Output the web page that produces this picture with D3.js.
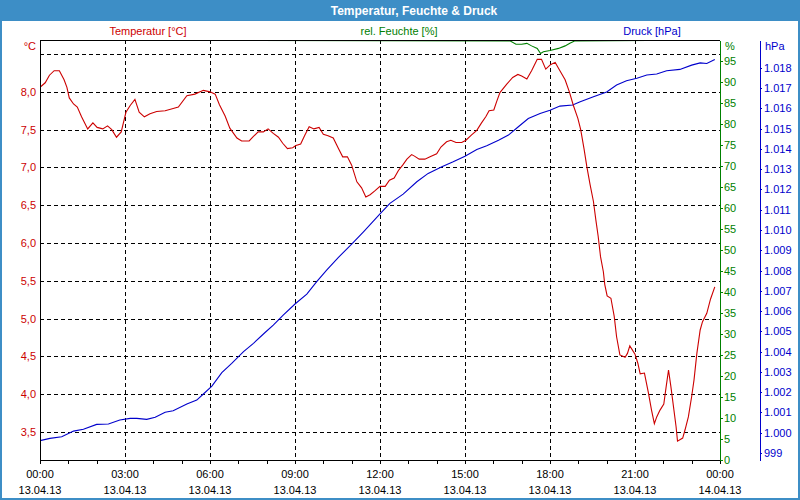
<!DOCTYPE html>
<html><head><meta charset="utf-8">
<script src="https://cdn.jsdelivr.net/npm/d3@7"></script>
<style>
body{margin:0;background:#fff}
svg{display:block}
text{font-family:"Liberation Sans",Arial,sans-serif;font-size:11px}
</style>
</head><body>
<svg id="chart" width="800" height="500"></svg>
<script>
// ---- data (minutes since 00:00 on 13.04.13) ----
const tempMin = [0,11,20,30,41,51,57,62,71,79,88,101,112,121,133,143,152,162,172,182,191,201,210,221,233,247,265,282,293,311,328,346,360,371,380,392,402,417,427,443,452,462,473,483,494,505,514,524,535,542,552,561,570,580,591,600,610,621,632,641,651,660,671,681,690,699,709,720,731,740,750,759,768,777,787,793,803,815,826,840,849,861,870,881,893,902,914,925,935,944,951,961,967,974,988,1001,1012,1020,1031,1041,1053,1062,1071,1081,1091,1101,1112,1121,1129,1139,1145,1152,1158,1165,1172,1177,1182,1187,1193,1196,1201,1209,1216,1221,1228,1239,1244,1249,1260,1266,1271,1280,1288,1295,1301,1306,1313,1321,1326,1331,1336,1341,1347,1350,1361,1366,1373,1380,1385,1391,1398,1403,1412,1420,1429];
const tempVal = [8.06,8.12,8.22,8.28,8.28,8.16,8.06,7.92,7.84,7.80,7.67,7.51,7.59,7.53,7.51,7.55,7.50,7.40,7.47,7.73,7.82,7.90,7.73,7.67,7.71,7.74,7.75,7.78,7.80,7.95,7.97,8.02,8.00,7.97,7.83,7.68,7.52,7.39,7.35,7.35,7.41,7.47,7.47,7.51,7.45,7.40,7.32,7.25,7.26,7.29,7.31,7.43,7.54,7.51,7.53,7.44,7.42,7.39,7.25,7.14,7.14,7.03,6.81,6.73,6.61,6.64,6.69,6.75,6.75,6.83,6.86,6.96,7.03,7.11,7.17,7.15,7.11,7.11,7.14,7.18,7.27,7.34,7.36,7.33,7.33,7.36,7.43,7.49,7.59,7.67,7.75,7.76,7.87,7.99,8.10,8.19,8.23,8.21,8.17,8.28,8.43,8.43,8.30,8.36,8.39,8.28,8.16,8.00,7.83,7.65,7.50,7.25,7.01,6.77,6.55,6.31,6.09,5.82,5.62,5.45,5.30,5.27,5.03,4.76,4.52,4.49,4.54,4.64,4.53,4.41,4.27,4.28,4.03,3.79,3.61,3.70,3.79,3.87,4.10,4.32,4.10,3.86,3.57,3.38,3.42,3.53,3.70,3.97,4.19,4.54,4.85,4.96,5.07,5.26,5.42];

const humMin = [0,995,1008,1020,1031,1041,1053,1060,1066,1080,1098,1112,1122,1133,1440];
const humVal = [100,99.8,99.0,99.0,99.2,98.6,98.0,96.8,97.2,97.5,98.0,98.6,99.2,99.8,100];

const presMin = [0,21,46,71,92,120,145,169,191,205,226,244,265,282,311,332,346,364,385,406,431,452,476,494,515,540,565,586,607,632,660,685,720,741,769,798,822,851,875,900,925,946,971,992,1013,1034,1059,1080,1101,1128,1144,1172,1200,1221,1242,1264,1285,1306,1327,1355,1380,1398,1412,1429];
const presVal = [999.61,999.72,999.80,1000.08,1000.17,1000.41,1000.43,1000.63,1000.71,1000.71,1000.66,1000.76,1001.01,1001.08,1001.42,1001.61,1001.91,1002.30,1002.96,1003.42,1004.00,1004.41,1004.93,1005.31,1005.80,1006.35,1006.84,1007.45,1008.02,1008.65,1009.30,1009.91,1010.80,1011.31,1011.77,1012.38,1012.79,1013.12,1013.36,1013.64,1013.97,1014.15,1014.43,1014.68,1015.09,1015.50,1015.75,1015.91,1016.11,1016.16,1016.32,1016.57,1016.81,1017.15,1017.36,1017.48,1017.64,1017.69,1017.85,1017.92,1018.13,1018.24,1018.21,1018.41];

const xTickMin   = [0,180,360,540,720,900,1080,1260,1440];
const timeLabels = ["00:00","03:00","06:00","09:00","12:00","15:00","18:00","21:00","00:00"];
const dateLabels = ["13.04.13","13.04.13","13.04.13","13.04.13","13.04.13","13.04.13","13.04.13","13.04.13","14.04.13"];
const tempTicks  = [3.5,4.0,4.5,5.0,5.5,6.0,6.5,7.0,7.5,8.0];
const tempGrid   = [3.5,4.0,4.5,5.0,5.5,6.0,6.5,7.0,7.5,8.0,8.5];
const humTicks   = [0,5,10,15,20,25,30,35,40,45,50,55,60,65,70,75,80,85,90,95];
const presTicks  = [999,1000,1001,1002,1003,1004,1005,1006,1007,1008,1009,1010,1011,1012,1013,1014,1015,1016,1017,1018];

// ---- setup ----
const W = 800, H = 500;
const L = 40, R = 720, T = 40, B = 460;
const RED = "#cc0000", GREEN = "#008000", BLUE = "#0000cc", FRAME = "#3d8ec6";
const de = d3.formatLocale({decimal:",", thousands:".", grouping:[3], currency:["","€"]});
const fTemp = de.format(".1f");
const fPres = de.format(",.0f");

const svg = d3.select("#chart");
const x  = d3.scaleLinear().domain([0,1440]).range([L,R]);
const yT = d3.scaleLinear().domain([3.13,8.686]).range([B,T]);
const yH = d3.scaleLinear().domain([0,100]).range([B,T]);
const yP = d3.scaleLinear().domain([998.655,1019.37]).range([B,T]);

// frame + title
svg.append("rect").attr("x",0).attr("y",0).attr("width",W).attr("height",H).attr("fill","#fff");
svg.append("rect").attr("x",0).attr("y",0).attr("width",W).attr("height",21).attr("fill",FRAME);
svg.append("rect").attr("x",1).attr("y",1).attr("width",W-2).attr("height",H-2)
  .attr("fill","none").attr("stroke",FRAME).attr("stroke-width",2);
svg.append("text").attr("x",414).attr("y",14.5).attr("text-anchor","middle")
  .attr("fill","#fff").attr("font-weight","bold").style("font-size","12px")
  .text("Temperatur, Feuchte & Druck");

// series headings
svg.append("text").attr("x",148).attr("y",35).attr("text-anchor","middle").attr("fill",RED).text("Temperatur [°C]");
svg.append("text").attr("x",399).attr("y",35).attr("text-anchor","middle").attr("fill",GREEN).text("rel. Feuchte [%]");
svg.append("text").attr("x",652).attr("y",35).attr("text-anchor","middle").attr("fill",BLUE).text("Druck [hPa]");
svg.append("text").attr("x",36).attr("y",50).attr("text-anchor","end").attr("fill",RED).text("°C");
svg.append("text").attr("x",725).attr("y",50).attr("fill",GREEN).text("%");
svg.append("text").attr("x",765).attr("y",50).attr("fill",BLUE).text("hPa");

// grid
const grid = svg.append("g").attr("stroke","#000").attr("stroke-dasharray","4,3").attr("shape-rendering","crispEdges");
grid.selectAll(".h").data(tempGrid).join("line")
  .attr("x1",L).attr("x2",R).attr("y1",d=>Math.round(yT(d))+0.5).attr("y2",d=>Math.round(yT(d))+0.5);
grid.selectAll(".v").data(xTickMin.slice(1,-1)).join("line")
  .attr("y1",T).attr("y2",B).attr("x1",d=>Math.round(x(d))+0.5).attr("x2",d=>Math.round(x(d))+0.5);

// series
svg.append("clipPath").attr("id","clip").append("rect").attr("x",L).attr("y",T).attr("width",R-L).attr("height",B-T);
const plot = svg.append("g").attr("clip-path","url(#clip)").attr("fill","none").attr("stroke-width",1.1);
const line = (ys) => d3.line().x(d=>x(d[0])).y(d=>ys(d[1]));
plot.append("path").datum(d3.zip(humMin,humVal)).attr("stroke",GREEN).attr("d",line(yH));
plot.append("path").datum(d3.zip(presMin,presVal)).attr("stroke",BLUE).attr("d",line(yP));
plot.append("path").datum(d3.zip(tempMin,tempVal)).attr("stroke",RED).attr("d",line(yT));

// frame lines
const fr = svg.append("g").attr("shape-rendering","crispEdges").attr("stroke","#000");
fr.append("line").attr("x1",L).attr("x2",R).attr("y1",T+0.5).attr("y2",T+0.5);
fr.append("line").attr("x1",L+0.5).attr("x2",L+0.5).attr("y1",T).attr("y2",B);
fr.append("line").attr("x1",L).attr("x2",R).attr("y1",B+0.5).attr("y2",B+0.5);

// x axis ticks and labels
const xAxis = svg.append("g").attr("transform",`translate(0,${B})`)
  .call(d3.axisBottom(x).tickValues(d3.range(0,1441,60)).tickSize(4).tickSizeOuter(0).tickFormat(""));
xAxis.select(".domain").remove();
xAxis.selectAll("line").attr("stroke","#000").attr("shape-rendering","crispEdges");
const xl = svg.append("g").attr("fill","#000").attr("text-anchor","middle");
xl.selectAll(".t").data(xTickMin).join("text").attr("x",d=>x(d)).attr("y",478).text((d,i)=>timeLabels[i]);
xl.selectAll(".d").data(xTickMin).join("text").attr("x",d=>x(d)).attr("y",494).text((d,i)=>dateLabels[i]);

// left temperature axis
const aT = svg.append("g").attr("transform",`translate(${L},0)`)
  .call(d3.axisLeft(yT).tickValues(tempTicks).tickSize(0).tickPadding(4).tickFormat(fTemp));
aT.select(".domain").remove();
aT.selectAll("text").attr("fill",RED).style("font-size","11px").style("font-family","'Liberation Sans',Arial,sans-serif");

// humidity axis
const aH = svg.append("g").attr("transform",`translate(${R},0)`)
  .call(d3.axisRight(yH).tickValues(humTicks).tickSize(3).tickSizeOuter(0).tickPadding(1));
aH.select(".domain").attr("stroke",GREEN).attr("shape-rendering","crispEdges");
aH.selectAll("line").attr("stroke",GREEN).attr("shape-rendering","crispEdges");
aH.selectAll("text").attr("fill",GREEN).style("font-size","11px").style("font-family","'Liberation Sans',Arial,sans-serif");

// pressure axis
const aP = svg.append("g").attr("transform",`translate(760,0)`)
  .call(d3.axisRight(yP).tickValues(presTicks).tickSize(2).tickSizeOuter(0).tickPadding(2).tickFormat(fPres));
aP.select(".domain").attr("stroke",BLUE).attr("shape-rendering","crispEdges");
aP.selectAll("line").attr("stroke",BLUE).attr("shape-rendering","crispEdges");
aP.selectAll("text").attr("fill",BLUE).style("font-size","11px").style("font-family","'Liberation Sans',Arial,sans-serif");
</script>
</body></html>
